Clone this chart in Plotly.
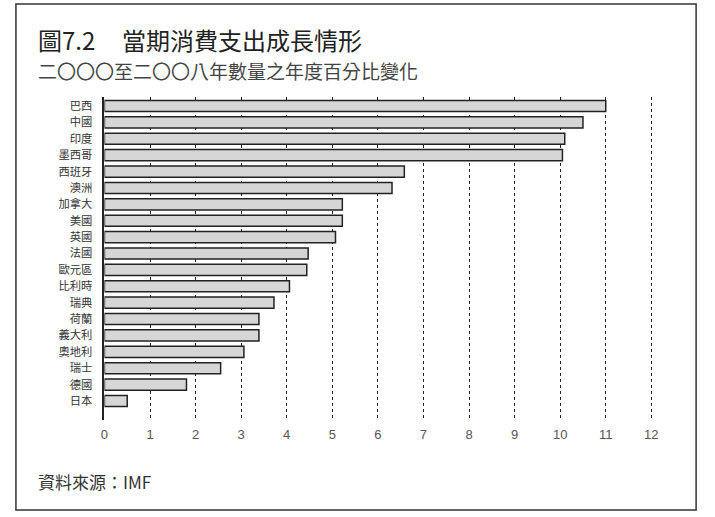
import plotly.graph_objects as go

# data (annual % change, 2000-2008)
countries = ["巴西", "中國", "印度", "墨西哥", "西班牙", "澳洲", "加拿大", "美國", "英國",
             "法國", "歐元區", "比利時", "瑞典", "荷蘭", "義大利", "奧地利", "瑞士", "德國", "日本"]
growth = [11.0, 10.5, 10.1, 10.05, 6.58, 6.31, 5.22, 5.22, 5.07,
          4.47, 4.44, 4.06, 3.72, 3.39, 3.39, 3.06, 2.55, 1.80, 0.50]
x_ticks = list(range(0, 13))

W, H = 715, 517
CJK = "Noto Sans CJK TC"
NUM = "Liberation Sans"


def px_x(v):
    return v / W


def px_y(v):
    return 1 - v / H


fig = go.Figure()

fig.add_trace(go.Bar(
    x=growth,
    y=countries,
    orientation="h",
    marker=dict(color="#d6d6d6", line=dict(color="#222222", width=1.5)),
    hoverinfo="x+y",
))

fig.update_layout(
    width=W,
    height=H,
    margin=dict(l=0, r=0, t=0, b=0),
    paper_bgcolor="white",
    plot_bgcolor="white",
    showlegend=False,
    bargap=0.32,
    xaxis=dict(
        domain=[px_x(101), px_x(101 + 12.3 * 45.83)],
        range=[0, 12.3],
        tickvals=x_ticks,
        ticktext=[str(t) for t in x_ticks],
        showgrid=True,
        gridcolor="#222222",
        gridwidth=1.3,
        griddash="dot",
        zeroline=False,
        showline=False,
        ticks="",
        ticklabelstandoff=5,
        tickfont=dict(family=NUM, size=13, color="#555555"),
    ),
    yaxis=dict(
        domain=[px_y(420), px_y(97)],
        range=[19.16, -0.55],
        tickmode="array",
        tickvals=countries,
        ticktext=countries,
        showgrid=False,
        zeroline=False,
        showline=True,
        linecolor="#222222",
        linewidth=1.5,
        ticks="",
        ticklabelstandoff=8,
        tickfont=dict(family=CJK, size=11.3, color="#333333"),
    ),
)

# outer frame
fig.add_shape(type="rect", xref="paper", yref="paper",
              x0=px_x(12), x1=px_x(696), y0=px_y(510), y1=px_y(4),
              line=dict(color="#333333", width=1.5), fillcolor="rgba(0,0,0,0)")

# title, subtitle, source
fig.add_annotation(text="圖7.2", xref="paper", yref="paper",
                   x=px_x(32), y=px_y(40), xanchor="left", yanchor="middle",
                   showarrow=False, font=dict(family=CJK, size=24, color="#222222"))
fig.add_annotation(text="當期消費支出成長情形", xref="paper", yref="paper",
                   x=px_x(117), y=px_y(40), xanchor="left", yanchor="middle",
                   showarrow=False, font=dict(family=CJK, size=24, color="#222222"))
fig.add_annotation(text="二〇〇〇至二〇〇八年數量之年度百分比變化", xref="paper", yref="paper",
                   x=px_x(32), y=px_y(70), xanchor="left", yanchor="middle",
                   showarrow=False, font=dict(family=CJK, size=19, color="#444444"))
fig.add_annotation(text="資料來源：IMF", xref="paper", yref="paper",
                   x=px_x(32), y=px_y(481), xanchor="left", yanchor="middle",
                   showarrow=False, font=dict(family=CJK, size=17, color="#333333"))

# drop the default page margin so the figure sits at the window origin
fig.write_html("out.html", config={"displayModeBar": False},
               post_script="document.body.style.margin='0';")
